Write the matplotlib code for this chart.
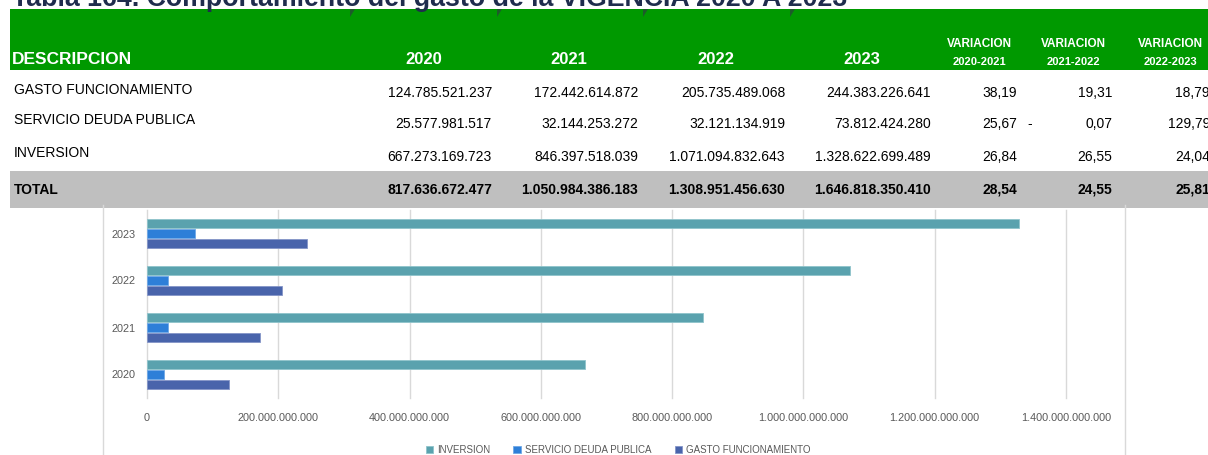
import matplotlib
matplotlib.use('Agg')
import matplotlib.pyplot as plt
from matplotlib.patches import Rectangle, Polygon
from matplotlib.lines import Line2D
import numpy as np

W, H = 1208, 455

years = ['2020', '2021', '2022', '2023']
gasto = [124785521237, 172442614872, 205735489068, 244383226641]
servicio = [25577981517, 32144253272, 32121134919, 73812424280]
inversion = [667273169723, 846397518039, 1071094832643, 1328622699489]
total = [817636672477, 1050984386183, 1308951456630, 1646818350410]

var_headers = ['2020-2021', '2021-2022', '2022-2023']
var_gasto = [38.19, 19.31, 18.79]
var_servicio = [25.67, -0.07, 129.79]
var_inversion = [26.84, 26.55, 24.04]
var_total = [28.54, 24.55, 25.81]

row_names = ['GASTO FUNCIONAMIENTO', 'SERVICIO DEUDA PUBLICA', 'INVERSION']
title = 'Tabla 164. Comportamiento del gasto de la VIGENCIA 2020 A 2023'

FONT = ['Liberation Sans', 'DejaVu Sans']
plt.rcParams['font.family'] = FONT


def fmt_num(v):
    return f'{v:,}'.replace(',', '.')


def fmt_var(v):
    return f'{abs(v):.2f}'.replace('.', ',')


fig = plt.figure(figsize=(W / 100, H / 100), dpi=100, facecolor='white')

# --- table layer in pixel coordinates ---
tb = fig.add_axes([0, 0, 1, 1])
tb.set_xlim(0, W)
tb.set_ylim(H, 0)
tb.axis('off')

# title is cut by the top edge, as in the source screenshot
tb.text(12, 6.5, title, fontsize=19.3, fontweight='bold', color='#1f2d4d', va='baseline')

tb.add_patch(Rectangle((10, 9), W - 10, 61, color='#009900', lw=0))
for x in [350, 497, 643, 790]:
    tb.add_patch(Polygon([(x, 9), (x + 5, 9), (x, 17)], closed=True, color='#1d5b2a', lw=0))
tb.add_patch(Rectangle((10, 171), W - 10, 37, color='#bfbfbf', lw=0))

tb.text(12, 60, 'DESCRIPCION', fontsize=12.5, fontweight='bold', color='white', va='center')
year_x = [424, 569, 716, 862]
num_right = [492, 638, 785, 931]
for x, yr in zip(year_x, years):
    tb.text(x, 60, yr, fontsize=12, fontweight='bold', color='white', va='center', ha='center')

var_x = [979, 1073, 1170]
var_right = [1017, 1112, 1210]
for x, h in zip(var_x, var_headers):
    tb.text(x, 44, 'VARIACION', fontsize=8.5, fontweight='bold', color='white', va='center', ha='center')
    tb.text(x, 62, h, fontsize=8, fontweight='bold', color='white', va='center', ha='center')

series = [gasto, servicio, inversion]
var_rows = [var_gasto, var_servicio, var_inversion]
label_y = [90, 120, 153]
num_y = [93, 124, 157]
for name, vals, vrs, ly, ny in zip(row_names, series, var_rows, label_y, num_y):
    tb.text(14, ly, name, fontsize=10, color='black', va='center')
    for x, v in zip(num_right, vals):
        tb.text(x, ny, fmt_num(v), fontsize=10, color='black', va='center', ha='right')
    for j, (x, v) in enumerate(zip(var_right, vrs)):
        tb.text(x, ny, fmt_var(v), fontsize=10, color='black', va='center', ha='right')
        if v < 0:
            tb.text(var_right[j - 1] + 10, ny, '-', fontsize=10, color='black', va='center')

tb.text(14, 190, 'TOTAL', fontsize=10, fontweight='bold', color='black', va='center')
for x, v in zip(num_right, total):
    tb.text(x, 190, fmt_num(v), fontsize=10, fontweight='bold', color='black', va='center', ha='right')
for x, v in zip(var_right, var_total):
    tb.text(x, 190, fmt_var(v), fontsize=10, fontweight='bold', color='black', va='center', ha='right')

# chart area side borders
for x in [103, 1125]:
    tb.add_line(Line2D([x, x], [205, H], color='#d9d9d9', lw=1))

# --- bar chart ---
x0, x1, y0, y1 = 147, 1066, 210, 398
ax = fig.add_axes([x0 / W, 1 - y1 / H, (x1 - x0) / W, (y1 - y0) / H])
pos = np.arange(len(years))
bh = 0.2
ax.barh(pos + 0.213, inversion, height=bh, color='#5aa2ae', edgecolor='#8fc3cb', lw=0.6, label='INVERSION', zorder=3)
ax.barh(pos, servicio, height=bh, color='#2e7fd8', edgecolor='#6fa8e6', lw=0.6, label='SERVICIO DEUDA PUBLICA', zorder=3)
ax.barh(pos - 0.213, gasto, height=bh, color='#4964ab', edgecolor='#8595c8', lw=0.6, label='GASTO FUNCIONAMIENTO', zorder=3)

ax.set_xlim(0, 1.4e12)
ax.set_ylim(-0.5, 3.5)
ax.set_yticks(pos)
ax.set_yticklabels(years)
ticks = np.arange(0, 1.4e12 + 1, 2e11)
ax.set_xticks(ticks)
ax.set_xticklabels([fmt_num(int(t)) if t else '0' for t in ticks])
ax.tick_params(axis='both', length=0, labelsize=7.8, labelcolor='#595959')
ax.tick_params(axis='x', pad=11)
ax.tick_params(axis='y', pad=8)
ax.xaxis.grid(True, color='#d9d9d9', lw=1, zorder=0)
for gl in ax.get_xgridlines():
    gl.set_clip_on(False)
ax.set_axisbelow(True)
for s in ax.spines.values():
    s.set_visible(False)
ax.set_facecolor('none')

fig.legend(loc='center', bbox_to_anchor=(618 / W, 1 - 450 / H), ncol=3, frameon=False,
           fontsize=7.05, labelcolor='#595959', handlelength=0.75, handleheight=0.75,
           handletextpad=0.4, columnspacing=2.4)

fig.savefig('out.png', dpi=100, facecolor='white')
